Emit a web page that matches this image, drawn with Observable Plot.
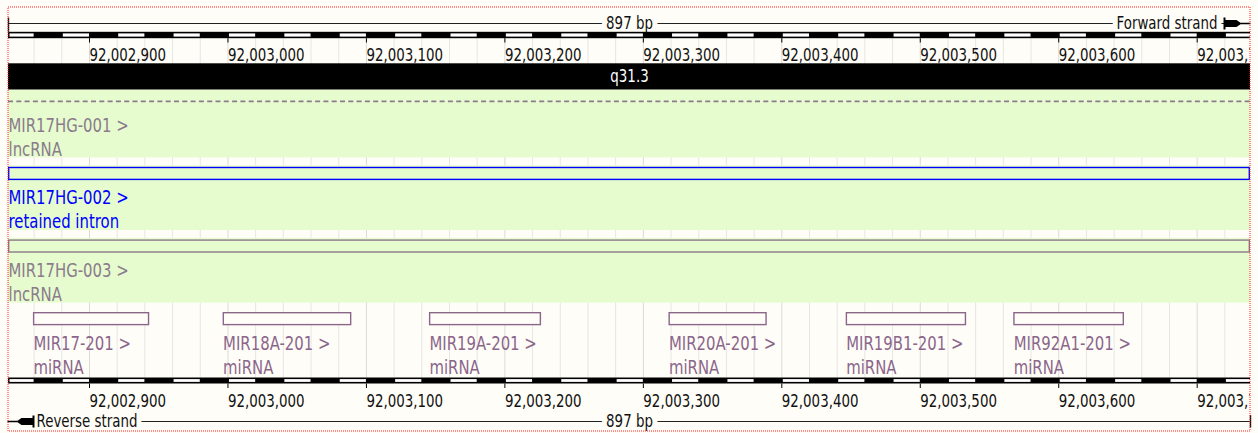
<!DOCTYPE html>
<html>
<head>
<meta charset="utf-8">
<script src="https://cdn.jsdelivr.net/npm/d3@7"></script>
<script src="https://cdn.jsdelivr.net/npm/@observablehq/plot@0.6"></script>
<style>
  html, body { margin: 0; padding: 0; background: #fffdf7; }
</style>
</head>
<body>
<div id="chart"></div>
<script>
// ---------------- data ----------------
const viewStart = 92002842;
const viewEnd = 92003738;
const scaleLabel = "897 bp";
const bandLabel = "q31.3";
const strandLabels = ["Forward strand", "Reverse strand"];
const tickPositions = [92002900, 92003000, 92003100, 92003200, 92003300, 92003400, 92003500, 92003600, 92003700];
const tickLabels = ["92,002,900", "92,003,000", "92,003,100", "92,003,200", "92,003,300", "92,003,400", "92,003,500", "92,003,600", "92,003,700"];

const transcriptNames = ["MIR17HG-001", "MIR17HG-002", "MIR17HG-003"];
const transcriptBiotypes = ["lncRNA", "retained intron", "lncRNA"];
const transcriptFeatureInView = ["intron", "exon", "exon"];
const transcriptStarts = [92002842, 92002842, 92002842];
const transcriptEnds = [92003738, 92003738, 92003738];

const mirnaNames = ["MIR17-201", "MIR18A-201", "MIR19A-201", "MIR20A-201", "MIR19B1-201", "MIR92A1-201"];
const mirnaStarts = [92002860, 92002997, 92003146, 92003319, 92003447, 92003568];
const mirnaEnds = [92002943, 92003089, 92003226, 92003389, 92003533, 92003647];
const mirnaBiotype = "miRNA";

const biotypes = ["lncRNA", "retained intron", "miRNA"];
const biotypeColors = ["#8b7b8b", "#0000ff", "#8b668b"];

// ---------------- layout / style ----------------
const W = 1258, H = 433;
const BG = "#fffdf7", GREEN = "#e6fccf";
const FONT = "DejaVu Sans";
const SMALL = 13.4, LABEL = 14.9, YSTRETCH = 1.33;
const xLo = viewStart - 0.5, xHi = viewEnd + 0.5, xMid = (xLo + xHi) / 2;
const ROW0 = 94.2, PITCH = 72.6, BOX_H = 13.3;
const rowTop = (r) => ROW0 + r * PITCH;

const transcripts = transcriptNames.map((name, i) => ({
  name, biotype: transcriptBiotypes[i], feature: transcriptFeatureInView[i],
  start: transcriptStarts[i], end: transcriptEnds[i], row: i
}));
const mirnas = mirnaNames.map((name, i) => ({
  name, biotype: mirnaBiotype, feature: "exon",
  start: mirnaStarts[i], end: mirnaEnds[i], row: transcripts.length
}));
const features = [...transcripts, ...mirnas];

// scale-bar blocks of 20 bp
const step = 20;
const edges = [xLo, ...d3.range(Math.ceil(viewStart / step) * step, viewEnd + 1, step), xHi];
const blocks = d3.pairs(edges).map(([a, b]) => ({a, b, white: Math.floor(a / step) % 2 === 0}));
const grid = d3.range(Math.ceil(viewStart / step) * step, viewEnd + 1, step);
const gridMajor = grid.filter(g => tickPositions.includes(g));
const gridMinor = grid.filter(g => !tickPositions.includes(g));

// strand arrow glyphs
const fwdArrow = {draw(c) {
  c.moveTo(-10, -6); c.lineTo(-8, -6); c.lineTo(-8, 6); c.lineTo(-10, 6); c.closePath();
  c.moveTo(-8, -3.6); c.lineTo(3, -3.6); c.lineTo(7, -0.7); c.lineTo(17, -0.7);
  c.lineTo(17, 0.7); c.lineTo(7, 0.7); c.lineTo(3, 3.6); c.lineTo(-8, 3.6); c.closePath();
}};
const revArrow = {draw(c) {
  c.moveTo(10, -6); c.lineTo(8, -6); c.lineTo(8, 6); c.lineTo(10, 6); c.closePath();
  c.moveTo(8, -3.6); c.lineTo(-3, -3.6); c.lineTo(-7, -0.7); c.lineTo(-17, -0.7);
  c.lineTo(-17, 0.7); c.lineTo(-7, 0.7); c.lineTo(-3, 3.6); c.lineTo(8, 3.6); c.closePath();
}};

const scaleRows = [
  {bpLine: 23, textBase: 28.5, barTop: 31.8, barBot: 38.2, tickTop: 38.2, tickBot: 42.5, labelBase: 60,
   strand: strandLabels[0], capX: xLo, capY1: 17.5, capY2: 31.8},
  {bpLine: 421, textBase: 426.5, barTop: 377.5, barBot: 383.5, tickTop: 383.5, tickBot: 388, labelBase: 406.7,
   strand: strandLabels[1], capX: xHi, capY1: 415, capY2: 427.5}
];

const one = [0];

const svg = Plot.plot({
  width: W, height: H,
  marginTop: 0, marginBottom: 0, marginLeft: 8, marginRight: W - 1250,
  x: {type: "linear", domain: [xLo, xHi], range: [8, 1250], axis: null},
  y: {type: "linear", domain: [0, H], range: [0, H], axis: null},
  color: {type: "ordinal", domain: biotypes, range: biotypeColors},
  style: {background: BG, fontFamily: FONT},
  marks: [
    // gridlines
    Plot.ruleX(gridMinor, {x: d => d, y1: 38.2, y2: 377.5, stroke: "#e6e6e6"}),
    Plot.ruleX(gridMajor, {x: d => d, y1: 38.2, y2: 377.5, stroke: "#dadada"}),
    // chromosome band
    Plot.rect(one, {x1: xLo, x2: xHi, y1: 63.3, y2: 89.7, fill: "#000"}),
    Plot.text([bandLabel], {x: xMid, y: 81, text: d => d, fill: "#fff", fontSize: SMALL,
      textAnchor: "middle", lineAnchor: "bottom"}),
    // highlighted transcript tracks
    Plot.rect(transcripts, {x1: xLo, x2: xHi,
      y1: d => d.row === 0 ? 89.7 : rowTop(d.row) - 1.5, y2: d => rowTop(d.row) + 63.2, fill: GREEN}),
    // intron-only transcript: dashed line
    Plot.ruleY(features.filter(d => d.feature === "intron"), {
      y: d => rowTop(d.row) + BOX_H / 2, x1: d => d.start - 0.5, x2: d => d.end + 0.5,
      stroke: "biotype", strokeWidth: 1.6, strokeDasharray: "5,3.3"}),
    // exon boxes
    Plot.rect(features.filter(d => d.feature === "exon"), {
      x1: d => d.start - 0.5, x2: d => d.end + 0.5,
      y1: d => rowTop(d.row), y2: d => rowTop(d.row) + BOX_H,
      fill: d => d.row < transcripts.length ? GREEN : BG, stroke: "biotype", strokeWidth: 1.4,
      insetLeft: 0.7, insetRight: 0.7, insetTop: 0.7, insetBottom: 0.7}),
    // feature labels
    Plot.text(features, {x: d => Math.max(d.start - 0.5, xLo), y: d => rowTop(d.row) + 37,
      text: d => d.name + " >", fill: "biotype", fontSize: LABEL, textAnchor: "start", lineAnchor: "bottom"}),
    Plot.text(features, {x: d => Math.max(d.start - 0.5, xLo), y: d => rowTop(d.row) + 61,
      text: d => d.biotype, fill: "biotype", fontSize: LABEL, textAnchor: "start", lineAnchor: "bottom"}),
    // bp lines
    Plot.ruleY(scaleRows, {y: "bpLine", x1: xLo, x2: xHi, stroke: "#222", strokeWidth: 1}),
    // 897 bp labels
    Plot.text(scaleRows, {x: xMid, y: "textBase", text: () => scaleLabel, fontSize: SMALL, fill: "#111",
      textAnchor: "middle", lineAnchor: "bottom", stroke: BG, strokeWidth: 10, paintOrder: "stroke",
      strokeLinejoin: "round"}),
    // strand labels
    Plot.text([scaleRows[0]], {x: xHi, dx: -33, y: "textBase", text: "strand", fontSize: SMALL, fill: "#111",
      textAnchor: "end", lineAnchor: "bottom", stroke: BG, strokeWidth: 10, paintOrder: "stroke",
      strokeLinejoin: "round"}),
    Plot.text([scaleRows[1]], {x: xLo, dx: 28, y: "textBase", text: "strand", fontSize: SMALL, fill: "#111",
      textAnchor: "start", lineAnchor: "bottom", stroke: BG, strokeWidth: 10, paintOrder: "stroke",
      strokeLinejoin: "round"}),
    // strand arrows and end caps
    Plot.dot([scaleRows[0]], {x: xHi, dx: -17, y: "bpLine", symbol: fwdArrow, fill: "#000", stroke: "none"}),
    Plot.dot([scaleRows[1]], {x: xLo, dx: 16, y: "bpLine", symbol: revArrow, fill: "#000", stroke: "none"}),
    Plot.ruleX(scaleRows, {x: "capX", y1: "capY1", y2: "capY2", stroke: "#111", strokeWidth: 1.4}),
    // scale bars
    Plot.rect(scaleRows, {x1: xLo, x2: xHi, y1: "barTop", y2: "barBot", fill: "#000"}),
    Plot.rect(scaleRows.flatMap(r => blocks.filter(b => b.white).map(b => ({...b, r}))), {
      x1: "a", x2: "b", y1: d => d.r.barTop + 1.6, y2: d => d.r.barBot - 1.6, fill: "#fff", insetLeft: 1.5}),
    Plot.ruleX(scaleRows.flatMap(r => tickPositions.map(t => ({t, r}))), {
      x: "t", y1: d => d.r.tickTop, y2: d => d.r.tickBot, stroke: "#000"}),
    Plot.text(scaleRows.flatMap(r => tickPositions.map((t, i) => ({t, label: tickLabels[i], r}))), {
      x: "t", y: d => d.r.labelBase, text: "label", fontSize: SMALL, fill: "#111",
      textAnchor: "start", lineAnchor: "bottom", clip: true}),
    // panel border
    Plot.rect(one, {x1: xLo, x2: xHi, y1: 7, y2: 431, fill: "none", stroke: "#ff2020",
      strokeWidth: 1, strokeDasharray: "1,1"})
  ]
});

svg.querySelectorAll("text").forEach(t => {
  const tr = t.getAttribute("transform");
  if (tr && tr.includes("translate")) t.setAttribute("transform", tr + ` scale(1,${YSTRETCH})`);
});
document.getElementById("chart").append(svg);
</script>
</body>
</html>
